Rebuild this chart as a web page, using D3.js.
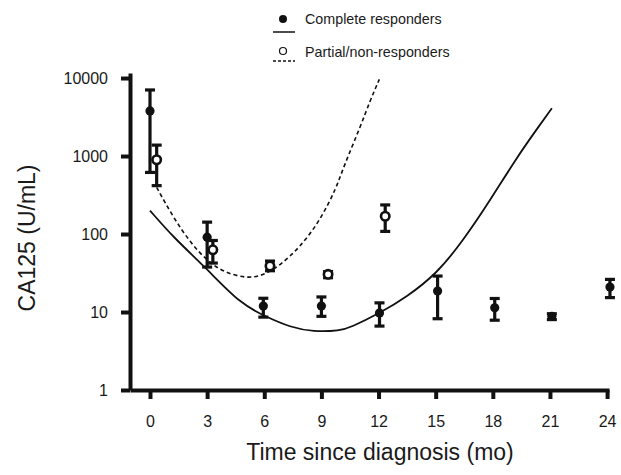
<!DOCTYPE html>
<meta charset="utf-8">
<script src="https://d3js.org/d3.v7.min.js"></script>
<style>
  body { margin: 0; background: #fff; }
  text { font-family: "Liberation Sans", Arial, sans-serif; fill: #1a1a1a; }
</style>
<div id="my_dataviz"></div>
<script>
// x ticks (months) and y ticks (CA125)
var xTicks = [0, 3, 6, 9, 12, 15, 18, 21, 24];
var yTicks = [1, 10, 100, 1000, 10000];

// complete responders: mean and error bar ends
var completeMonths = [0, 3, 5.95, 9, 12.05, 15.1, 18.1, 21.1, 24.15];
var completeMean   = [3790, 91, 11.9, 11.9, 9.7, 18.6, 11.3, 8.8, 20.9];
var completeLow    = [616, 37.7, 8.6, 8.8, 6.6, 8.2, 7.85, 8.0, 15.3];
var completeHigh   = [7030, 142, 15, 15.6, 13.1, 28.9, 14.9, 9.5, 26.2];

// partial/non-responders
var partialMonths = [0.35, 3.3, 6.3, 9.35, 12.35];
var partialMean   = [896, 62.8, 38.9, 30.4, 169];
var partialLow    = [417, 42.4, 33.8, 27.5, 108];
var partialHigh   = [1380, 82.6, 45, 33, 236];

// fitted curves
var solidMonths = [0, 1.22, 2.98, 4.73, 6.13, 7.35, 8.58, 9.98, 10.5, 12.08, 13.48, 15.06, 16.45, 17.85, 19.26, 20.31, 21.1];
var solidValues = [200, 91, 36, 12.8, 8.6, 6.4, 5.56, 5.76, 6.3, 9.7, 15.6, 31, 83, 268, 958, 2210, 4100];
var dashedMonths = [0.35, 1.22, 2.10, 2.98, 3.85, 5.08, 5.95, 6.83, 7.88, 8.93, 9.80, 10.15, 11.03, 11.55, 12.04];
var dashedValues = [396, 164, 78.5, 45.9, 32.5, 26.8, 29.5, 39.6, 67.8, 149, 396, 714, 2317, 5080, 9620];

var legendLabels = ["Complete responders", "Partial/non-responders"];

var svg = d3.select("#my_dataviz")
  .append("svg")
    .attr("width", 621)
    .attr("height", 475);

var x = d3.scaleLinear()
  .domain([-1.05, 24.1])
  .range([130, 609]);

var y = d3.scaleLog()
  .domain([1, 11600])
  .range([390, 73]);

// X axis
var xAxis = svg.append("g")
  .attr("transform", "translate(0," + y(1) + ")")
  .call(d3.axisBottom(x).tickValues(xTicks).tickSize(9).tickSizeOuter(0).tickPadding(17));
xAxis.select(".domain").attr("stroke", "#111").attr("stroke-width", 4);
xAxis.selectAll(".tick line").attr("stroke", "#111").attr("stroke-width", 4);
xAxis.selectAll(".tick text").style("font-size", "16px");

// Y axis
var yAxis = svg.append("g")
  .attr("transform", "translate(" + x(-1.05) + ",0)")
  .call(d3.axisLeft(y).tickValues(yTicks).tickFormat(d3.format("d")).tickSize(9).tickSizeOuter(0).tickPadding(13));
yAxis.select(".domain").attr("stroke", "#111").attr("stroke-width", 4);
yAxis.selectAll(".tick line").attr("stroke", "#111").attr("stroke-width", 4);
yAxis.selectAll(".tick text").style("font-size", "16px");

// axis titles
svg.append("text")
  .attr("x", 380)
  .attr("y", 460)
  .attr("text-anchor", "middle")
  .style("font-size", "23px")
  .text("Time since diagnosis (mo)");

svg.append("text")
  .attr("transform", "translate(35,238) rotate(-90)")
  .attr("text-anchor", "middle")
  .style("font-size", "23px")
  .text("CA125 (U/mL)");

// fitted curves
var line = d3.line().curve(d3.curveBasis);

svg.append("path")
  .datum(d3.zip(solidMonths, solidValues))
  .attr("fill", "none")
  .attr("stroke", "#111")
  .attr("stroke-width", 1.8)
  .attr("d", line.x(function(d) { return x(d[0]) }).y(function(d) { return y(d[1]) }));

svg.append("path")
  .datum(d3.zip(dashedMonths, dashedValues))
  .attr("fill", "none")
  .attr("stroke", "#111")
  .attr("stroke-width", 1.6)
  .attr("stroke-dasharray", "4,3")
  .attr("d", line.x(function(d) { return x(d[0]) }).y(function(d) { return y(d[1]) }));

// error bars + points
function drawSeries(months, mean, low, high, filled) {
  var data = months.map(function(m, i) { return { m: m, v: mean[i], lo: low[i], hi: high[i] } });
  var g = svg.append("g");
  var bars = g.selectAll("g").data(data).enter().append("g");
  bars.append("line")
    .attr("x1", function(d) { return x(d.m) })
    .attr("x2", function(d) { return x(d.m) })
    .attr("y1", function(d) { return y(d.lo) })
    .attr("y2", function(d) { return y(d.hi) })
    .attr("stroke", "#111").attr("stroke-width", 3.2);
  [ "lo", "hi" ].forEach(function(k) {
    bars.append("line")
      .attr("x1", function(d) { return x(d.m) - 5 })
      .attr("x2", function(d) { return x(d.m) + 5 })
      .attr("y1", function(d) { return y(d[k]) })
      .attr("y2", function(d) { return y(d[k]) })
      .attr("stroke", "#111").attr("stroke-width", 3.2);
  });
  bars.append("circle")
    .attr("cx", function(d) { return x(d.m) })
    .attr("cy", function(d) { return y(d.v) })
    .attr("r", filled ? 4.6 : 4.2)
    .attr("fill", filled ? "#111" : "#fff")
    .attr("stroke", "#111")
    .attr("stroke-width", filled ? 0 : 2.6);
}
drawSeries(completeMonths, completeMean, completeLow, completeHigh, true);
drawSeries(partialMonths, partialMean, partialLow, partialHigh, false);

// legend
var legend = svg.append("g");
legend.append("circle").attr("cx", 283).attr("cy", 19).attr("r", 4).attr("fill", "#111");
legend.append("line").attr("x1", 273).attr("x2", 295).attr("y1", 32).attr("y2", 32)
  .attr("stroke", "#111").attr("stroke-width", 1.5);
legend.append("circle").attr("cx", 283).attr("cy", 51).attr("r", 3.5)
  .attr("fill", "#fff").attr("stroke", "#111").attr("stroke-width", 1.2);
legend.append("line").attr("x1", 273).attr("x2", 295).attr("y1", 61).attr("y2", 61)
  .attr("stroke", "#111").attr("stroke-width", 1.3).attr("stroke-dasharray", "3,2");
legend.selectAll("text.lg").data(legendLabels).enter().append("text")
  .attr("class", "lg")
  .attr("x", 305)
  .attr("y", function(d, i) { return 24 + i * 33 })
  .style("font-size", "14.3px")
  .text(function(d) { return d });
</script>
